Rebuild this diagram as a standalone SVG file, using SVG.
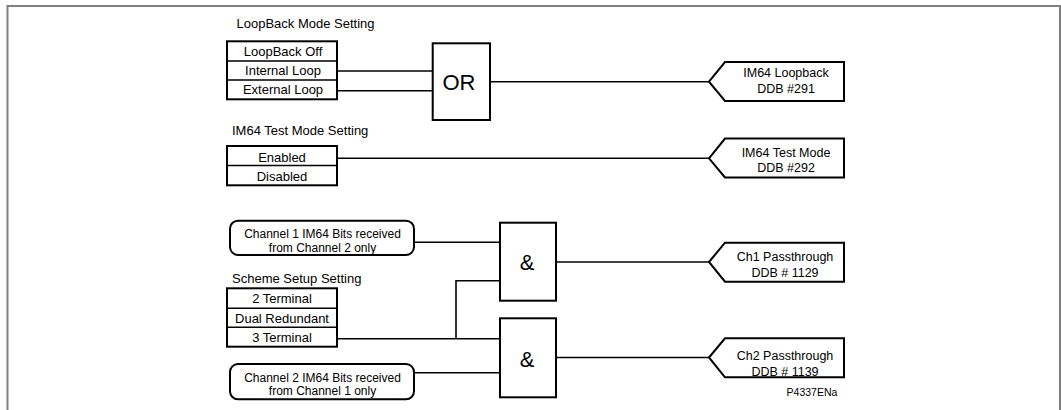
<svg xmlns="http://www.w3.org/2000/svg" width="1061" height="410" viewBox="0 0 1061 410">
<style>
text{font-family:"Liberation Sans",Arial,sans-serif;fill:#000}
.h{font-size:13px}
.r{font-size:13px;text-anchor:middle}
.c{font-size:12px;text-anchor:middle}
.p{font-size:12.5px;text-anchor:middle}
.g{font-size:22px;text-anchor:middle}
.box{fill:#fff;stroke:#000;stroke-width:2}
.ln{fill:none;stroke:#000;stroke-width:1.6}
</style>
<rect width="1061" height="410" fill="#fff"/>
<path d="M7.5,410 V6 H1060 V410" fill="none" stroke="#808080" stroke-width="2"/>

<g id="connectors">
<path class="ln" d="M337,71 H433"/>
<path class="ln" d="M337,90.7 H433"/>
<path class="ln" d="M490,81.7 H709"/>
<path class="ln" d="M337,158.3 H709"/>
<path class="ln" d="M414,242.3 H500"/>
<path class="ln" d="M337,338.7 H500"/>
<path class="ln" d="M456,338.7 V280.7 H500"/>
<path class="ln" d="M414,372.7 H500"/>
<path class="ln" d="M556,262 H709"/>
<path class="ln" d="M556,357.5 H709"/>
</g>

<g id="loopback-setting">
<text class="h" x="236.5" y="28">LoopBack Mode Setting</text>
<rect class="box" x="227" y="41.3" width="110" height="58"/>
<path class="ln" d="M227,61 H337 M227,80 H337" stroke-width="2"/>
<text class="r" x="283" y="56">LoopBack Off</text>
<text class="r" x="283" y="75">Internal Loop</text>
<text class="r" x="283" y="94.3">External Loop</text>
</g>

<g id="or-gate">
<rect class="box" x="432.7" y="43.3" width="57.3" height="76.7"/>
<text class="g" x="459" y="89.5">OR</text>
</g>

<g id="im64-loopback">
<path class="box" d="M709,81.7 L725,62 H844 V101 H725 Z"/>
<text class="p" x="786" y="77">IM64 Loopback</text>
<text class="p" x="786" y="92.5">DDB #291</text>
</g>

<g id="test-setting">
<text class="h" x="232" y="135">IM64 Test Mode Setting</text>
<rect class="box" x="227" y="146" width="110" height="39.3"/>
<path class="ln" d="M227,165.5 H337" stroke-width="2"/>
<text class="r" x="282" y="161.5">Enabled</text>
<text class="r" x="282" y="181">Disabled</text>
</g>

<g id="im64-test-mode">
<path class="box" d="M709,158.3 L725,138.5 H844 V177.5 H725 Z"/>
<text class="p" x="786" y="156.7">IM64 Test Mode</text>
<text class="p" x="786" y="172.3">DDB #292</text>
</g>

<g id="ch1-bits">
<rect class="box" x="230" y="220.7" width="184" height="34.3" rx="8"/>
<text class="c" x="322.5" y="237.7">Channel 1 IM64 Bits received</text>
<text class="c" x="322.5" y="251.5">from Channel 2 only</text>
</g>

<g id="scheme-setting">
<text class="h" x="232" y="282.7">Scheme Setup Setting</text>
<rect class="box" x="227" y="288.3" width="110" height="58.4"/>
<path class="ln" d="M227,308.3 H337 M227,327.3 H337" stroke-width="2"/>
<text class="r" x="282" y="303.3">2 Terminal</text>
<text class="r" x="282" y="322.7">Dual Redundant</text>
<text class="r" x="282" y="342">3 Terminal</text>
</g>

<g id="ch2-bits">
<rect class="box" x="230" y="364" width="184" height="35.3" rx="8"/>
<text class="c" x="322.5" y="381.5">Channel 2 IM64 Bits received</text>
<text class="c" x="322.5" y="394.5">from Channel 1 only</text>
</g>

<g id="and-gate-1">
<rect class="box" x="500" y="222.7" width="56" height="78"/>
<text class="g" x="527" y="269.5">&amp;</text>
</g>

<g id="and-gate-2">
<rect class="box" x="500" y="318.3" width="56" height="79"/>
<text class="g" x="527" y="366.7">&amp;</text>
</g>

<g id="ch1-passthrough">
<path class="box" d="M709,262 L725,242.7 H844 V281.7 H725 Z"/>
<text class="p" x="785" y="260.5">Ch1 Passthrough</text>
<text class="p" x="785" y="276.5">DDB # 1129</text>
</g>

<g id="ch2-passthrough">
<path class="box" d="M709,357.5 L725,338.3 H844 V377.3 H725 Z"/>
<text class="p" x="785" y="359.5">Ch2 Passthrough</text>
<text class="p" x="785" y="376">DDB # 1139</text>
</g>

<text x="812" y="396" style="font-size:10.5px;text-anchor:middle">P4337ENa</text>
</svg>
